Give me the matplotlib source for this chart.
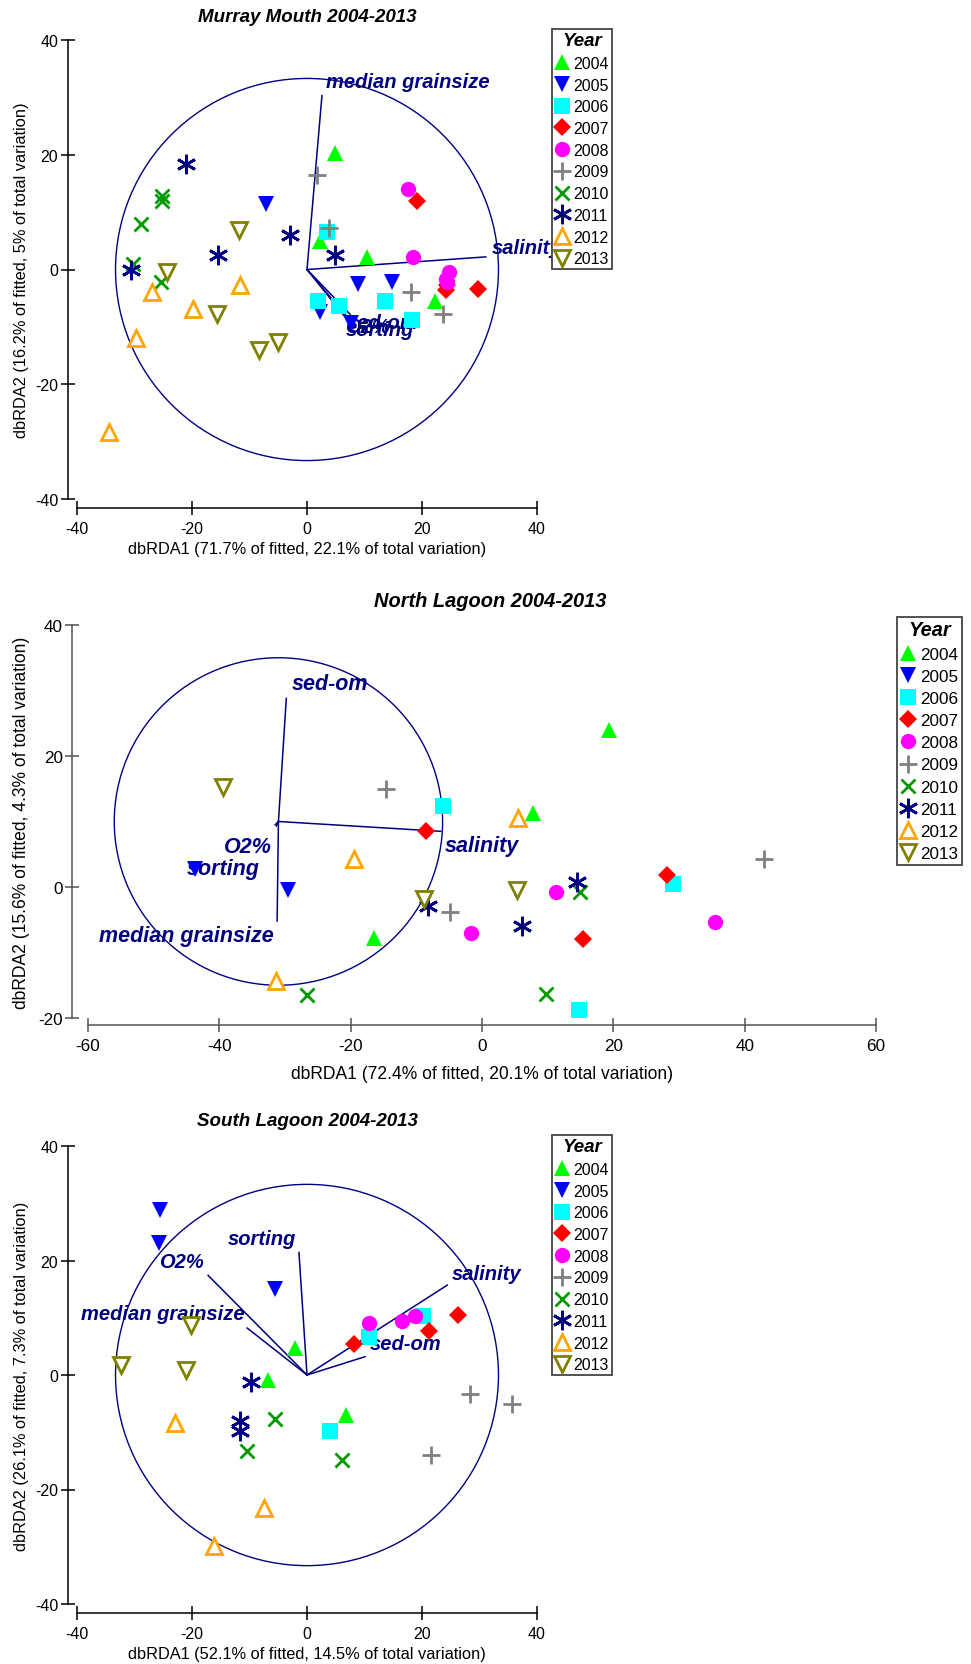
import matplotlib
matplotlib.use("Agg")
import matplotlib.pyplot as plt
from matplotlib.lines import Line2D
from matplotlib.patches import Ellipse

plt.rcParams["font.family"] = ["Liberation Sans", "DejaVu Sans"]
plt.rcParams["axes.unicode_minus"] = False

W, H = 971, 1665

YEARS = ["2004", "2005", "2006", "2007", "2008", "2009", "2010", "2011", "2012", "2013"]

# ---- Murray Mouth (points per year, dbRDA1 / dbRDA2)
MM_X = [[4.8, 2.2, 10.4, 22.2],
        [-7.1, 8.8, 14.7, 2.2, 7.7],
        [1.9, 5.6, 13.5, 18.3, 3.4],
        [19.1, 24.4, 24.1, 29.8],
        [17.5, 18.5, 24.7, 24.2, 24.4],
        [1.7, 3.8, 18.1, 23.6],
        [-28.8, -25.3, -25.3, -30.3, -25.4],
        [-21.0, -3.0, -15.5, 4.9, -30.6],
        [-26.9, -19.9, -11.7, -29.7, -34.4],
        [-11.9, -24.4, -15.7, -8.3, -5.1]]
MM_Y = [[20.3, 5.0, 2.1, -5.5],
        [11.4, -2.5, -2.1, -7.4, -9.4],
        [-5.5, -6.3, -5.5, -8.8, 6.6],
        [11.9, -2.7, -3.5, -3.4],
        [14.0, 2.2, -0.5, -1.6, -2.2],
        [16.5, 7.2, -4.0, -7.8],
        [8.0, 12.8, 12.0, 0.9, -2.2],
        [18.4, 6.0, 2.5, 2.5, -0.1],
        [-4.0, -6.9, -2.7, -11.9, -28.3],
        [6.8, -0.5, -7.7, -14.1, -12.7]]
MM_VEC = ["median grainsize", "salinity", "sed-om", "sorting", "O2%"]
MM_VEC_X = [2.6, 31.1, 7.5, 7.0, 6.4]
MM_VEC_Y = [30.3, 2.2, -7.8, -8.3, -8.0]

# ---- North Lagoon
NL_X = [[19.4, 7.8, -16.5],
        [-43.7, -29.6],
        [-5.9, 29.1, 14.7],
        [-8.6, 28.1, 15.4],
        [11.3, -1.6, 35.5],
        [-14.6, -4.9, 43.0],
        [14.9, -26.6, 9.7],
        [14.5, -8.2, 6.1],
        [5.5, -19.5, -31.4],
        [-39.5, 5.4, -8.9]]
NL_Y = [[24.0, 11.3, -7.8],
        [2.7, -0.4],
        [12.4, 0.5, -18.8],
        [8.6, 1.9, -8.0],
        [-0.8, -7.0, -5.4],
        [15.0, -3.8, 4.3],
        [-0.8, -16.5, -16.3],
        [0.8, -2.9, -6.0],
        [10.5, 4.2, -14.4],
        [15.3, -0.4, -1.8]]
NL_ORIGIN = (-31.0, 10.0)
NL_VEC = ["sed-om", "salinity", "median grainsize", "O2%", "sorting"]
NL_VEC_X = [-29.8, -6.3, -31.2, -31.3, -31.5]
NL_VEC_Y = [28.8, 8.5, -5.2, 9.3, 9.5]

# ---- South Lagoon
SL_X = [[-2.1, -6.8, 6.7],
        [-25.6, -25.8, -5.5],
        [10.8, 20.2, 4.0],
        [8.2, 21.2, 26.2],
        [10.8, 16.6, 18.8],
        [28.4, 35.7, 21.5],
        [-5.5, -10.4, 6.1],
        [-9.8, -11.6, -11.6],
        [-23.0, -7.5, -16.2],
        [-32.3, -20.2, -21.0]]
SL_Y = [[4.8, -0.8, -6.9],
        [28.9, 23.0, 15.1],
        [6.7, 10.3, -9.7],
        [5.4, 7.7, 10.5],
        [9.0, 9.4, 10.3],
        [-3.3, -5.1, -14.0],
        [-7.6, -13.3, -14.9],
        [-1.2, -8.1, -9.8],
        [-8.3, -23.3, -29.8],
        [1.8, 8.8, 0.9]]
SL_VEC = ["sorting", "O2%", "median grainsize", "salinity", "sed-om"]
SL_VEC_X = [-1.4, -17.2, -10.4, 24.4, 10.1]
SL_VEC_Y = [21.4, 17.4, 8.2, 15.7, 3.2]

# symbol per year: marker, colour, size, open or filled
MARKERS = ["^", "v", "s", "D", "o", "+", "x", (6, 2, 0), "^", "v"]
COLORS = ["#00ff00", "#0000ff", "#00ffff", "#ff0000", "#ff00ff",
          "#808080", "#009900", "#000080", "#ffa500", "#808000"]
SIZES = [11.5, 11.5, 11, 9.5, 11, 13.5, 10, 14, 11.5, 11.5]
OPEN = [False, False, False, False, False, False, False, False, True, True]
NAVY = "#000080"


def style(i):
    kw = dict(marker=MARKERS[i], color=COLORS[i], linestyle="none",
              markersize=SIZES[i])
    if OPEN[i]:
        kw.update(markerfacecolor="white", markeredgewidth=2.0)
    elif MARKERS[i] in ("+", "x") or isinstance(MARKERS[i], tuple):
        kw.update(markeredgewidth=2.0)
    else:
        kw.update(markeredgewidth=0)
    return kw


def panel(rect, title, title_xy, xs, ys, xlim, ylim, xticks, yticks, origin, radius,
          vec_names, vx, vy, labels, xlabel, ylabel, ylabel_x, legend_xy,
          yout, xout, spine_col="black", fs=1.0, xlpad=4):
    l, t, w, h = rect
    ax = fig.add_axes([l / W, 1 - (t + h) / H, w / W, h / H])
    ax.set_xlim(*xlim)
    ax.set_ylim(*ylim)
    ax.set_xticks(xticks)
    ax.set_yticks(yticks)
    for s in ("top", "right"):
        ax.spines[s].set_visible(False)
    ax.spines["left"].set_position(("outward", yout))
    ax.spines["bottom"].set_position(("outward", xout))
    for s in ("left", "bottom"):
        ax.spines[s].set_color(spine_col)
        ax.spines[s].set_linewidth(1.1)
    ax.tick_params(direction="inout", length=10, width=1.1, color=spine_col,
                   labelsize=11.5 * fs, pad=2)
    ax.tick_params(axis="x", pad=4)
    ax.set_xlabel(xlabel, fontsize=11.8 * fs, labelpad=xlpad)
    fig.text(ylabel_x / W, 1 - (t + h / 2) / H, ylabel, rotation=90,
             fontsize=11.8 * fs, ha="center", va="center")
    fig.text(title_xy[0] / W, 1 - title_xy[1] / H, title, fontsize=13.5 * fs,
             fontweight="bold", fontstyle="italic", ha="center", va="center")

    ax.add_patch(Ellipse(origin, 2 * radius, 2 * radius, fill=False,
                         edgecolor=NAVY, linewidth=1.0, zorder=1))
    for name, ex, ey, (lx, ly, ha) in zip(vec_names, vx, vy, labels):
        ax.plot([origin[0], ex], [origin[1], ey], color=NAVY, linewidth=1.1, zorder=2)
        ax.text(lx, ly, name, color=NAVY, fontsize=14.5 * fs, fontweight="bold",
                fontstyle="italic", ha=ha, va="center", zorder=2)

    for i in range(len(YEARS)):
        ax.plot(xs[i], ys[i], zorder=3, clip_on=False, **style(i))

    handles = [Line2D([], [], **style(i)) for i in range(len(YEARS))]
    leg = fig.legend(handles, YEARS, loc="upper left",
                     bbox_to_anchor=(legend_xy[0] / W, 1 - legend_xy[1] / H),
                     title="Year", fontsize=11.5 * fs, frameon=True, fancybox=False,
                     edgecolor="#444444", framealpha=1, borderpad=0.2,
                     labelspacing=0.42, handlelength=0.9, handletextpad=0.25,
                     borderaxespad=0)
    leg.get_title().set_fontweight("bold")
    leg.get_title().set_fontstyle("italic")
    leg.get_title().set_fontsize(13.5 * fs)
    leg.get_frame().set_linewidth(1.3)
    leg.set_zorder(10)
    return ax


fig = plt.figure(figsize=(W / 100, H / 100), dpi=100)

panel((77, 41, 460, 459), "Murray Mouth 2004-2013", (307, 18),
      MM_X, MM_Y, (-40, 40), (-40, 40), [-40, -20, 0, 20, 40], [-40, -20, 0, 20, 40],
      (0, 0), 33.3, MM_VEC, MM_VEC_X, MM_VEC_Y,
      [(3.3, 32.8, "left"), (32.1, 3.8, "left"), (7.0, -9.3, "left"),
       (6.8, -10.4, "left"), (6.6, -10.0, "left")],
      "dbRDA1 (71.7% of fitted, 22.1% of total variation)",
      "dbRDA2 (16.2% of fitted, 5% of total variation)", 22, (552, 30), 6.5, 6.5)

panel((88, 626, 788, 393), "North Lagoon 2004-2013", (490, 602),
      NL_X, NL_Y, (-60, 60), (-20, 40), [-60, -40, -20, 0, 20, 40, 60], [-20, 0, 20, 40],
      NL_ORIGIN, 25.0, NL_VEC, NL_VEC_X, NL_VEC_Y,
      [(-29.0, 31.0, "left"), (-5.6, 6.3, "left"), (-31.7, -7.4, "right"),
       (-32.0, 6.2, "right"), (-33.9, 2.9, "right")],
      "dbRDA1 (72.4% of fitted, 20.1% of total variation)",
      "dbRDA2 (15.6% of fitted, 4.3% of total variation)", 22, (897, 618), 11.2, 5.3,
      spine_col="#555555", fs=1.07, xlpad=9)

panel((77, 1147, 460, 458), "South Lagoon 2004-2013", (307, 1122),
      SL_X, SL_Y, (-40, 40), (-40, 40), [-40, -20, 0, 20, 40], [-40, -20, 0, 20, 40],
      (0, 0), 33.3, SL_VEC, SL_VEC_X, SL_VEC_Y,
      [(-1.9, 23.8, "right"), (-17.9, 19.9, "right"), (-10.9, 10.7, "right"),
       (25.2, 17.8, "left"), (10.9, 5.5, "left")],
      "dbRDA1 (52.1% of fitted, 14.5% of total variation)",
      "dbRDA2 (26.1% of fitted, 7.3% of total variation)", 22, (552, 1136), 6.5, 6.5)

fig.savefig("out.png", dpi=100, facecolor="white")
